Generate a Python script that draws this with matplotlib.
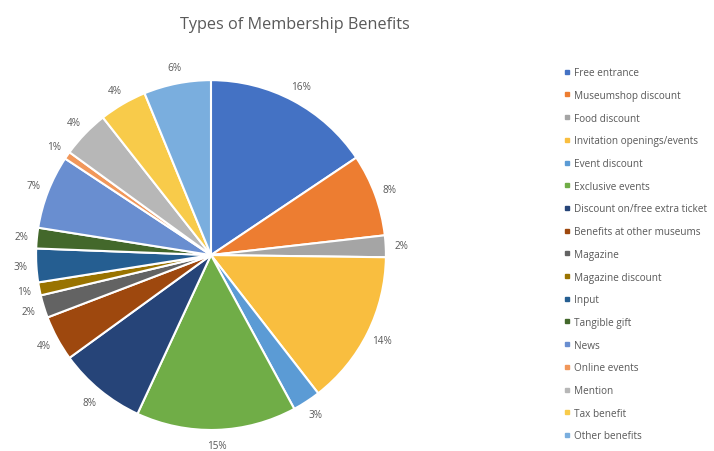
import matplotlib.pyplot as plt
from matplotlib.lines import Line2D

# benefit categories, clockwise from 12 o'clock
categories = [
    "Free entrance", "Museumshop discount", "Food discount",
    "Invitation openings/events", "Event discount", "Exclusive events",
    "Discount on/free extra ticket", "Benefits at other museums", "Magazine",
    "Magazine discount", "Input", "Tangible gift", "News", "Online events",
    "Mention", "Tax benefit", "Other benefits",
]
shares = [15.6, 7.6, 2.0, 14.3, 2.6, 14.8, 8.1, 4.2, 2.1, 1.2,
          3.1, 1.9, 6.8, 0.7, 4.4, 4.4, 6.2]
colors = [
    "#4472C4", "#ED7D31", "#A5A5A5", "#F9BE3F", "#5B9BD5", "#70AD47",
    "#264478", "#9E480E", "#636363", "#997300", "#255E91", "#43682B",
    "#698ED0", "#F1975A", "#B7B7B7", "#F8CB4A", "#7AAEDE",
]

TEXT = "#595959"
plt.rcParams["font.family"] = ["Open Sans", "DejaVu Sans"]

fig = plt.figure(figsize=(7.14, 4.52), dpi=100)
ax = fig.add_axes([0.0505, 0.0465, 0.490, 0.774])

wedges, texts, autotexts = ax.pie(
    shares, colors=colors, startangle=90, counterclock=False,
    autopct="%1.0f%%", pctdistance=1.09,
    wedgeprops=dict(edgecolor="white", linewidth=1.5),
    textprops=dict(color=TEXT, fontsize=7.2),
)
ax.set_xlim(-1, 1)
ax.set_ylim(-1, 1)
ax.set_aspect("equal")

fig.text(0.413, 0.945, "Types of Membership Benefits", ha="center", va="center",
         fontsize=11.7, color=TEXT)

handles = [Line2D([], [], marker="s", linestyle="none", markersize=3,
                  markerfacecolor=c, markeredgecolor=c) for c in colors]
fig.legend(handles, categories, loc="upper left", bbox_to_anchor=(0.783, 0.86),
           frameon=False, fontsize=7.2, labelcolor=TEXT, handlelength=0.6,
           handletextpad=0.4, labelspacing=1.17, borderpad=0)

fig.savefig("out.png", dpi=100)
